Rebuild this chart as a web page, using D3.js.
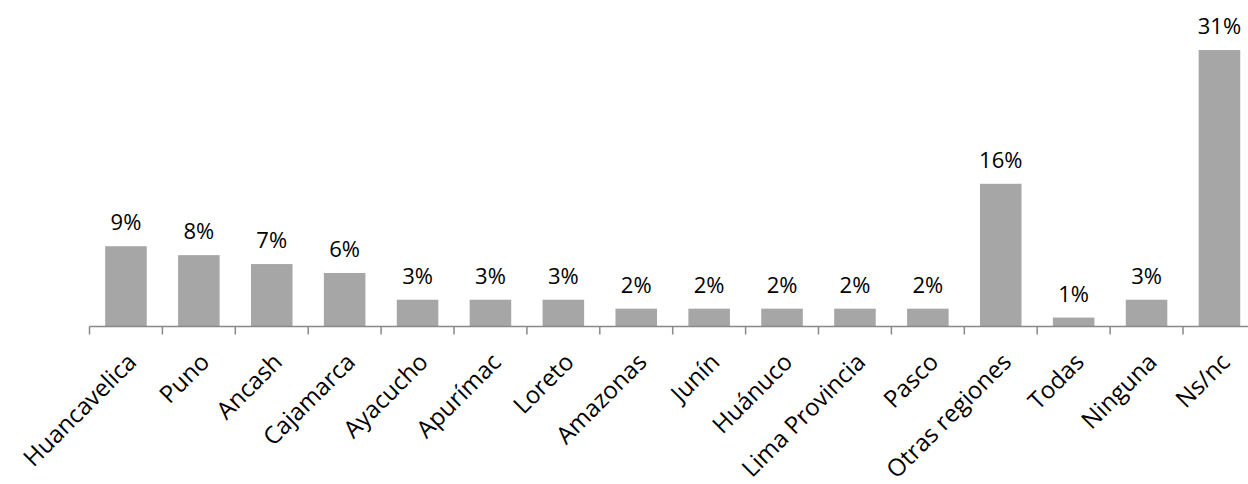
<!DOCTYPE html>
<html>
<head>
<meta charset="utf-8">
<script src="https://cdn.jsdelivr.net/npm/d3@7"></script>
<style>
  body { margin: 0; background: #fff; }
  text { font-family: "Open Sans", sans-serif; fill: #000; }
</style>
</head>
<body>
<svg class="chart"></svg>
<script>
const width = 1248,
  height = 484;

// regions and share of answers (%)
const regions = ["Huancavelica", "Puno", "Ancash", "Cajamarca", "Ayacucho", "Apurímac", "Loreto",
  "Amazonas", "Junín", "Huánuco", "Lima Provincia", "Pasco", "Otras regiones", "Todas", "Ninguna", "Ns/nc"];
const shares = [9, 8, 7, 6, 3, 3, 3, 2, 2, 2, 2, 2, 16, 1, 3, 31];

const axisY = 326.5;

let chart = d3.select(".chart")
  .attr("width", width)
  .attr("height", height);

let x = d3.scaleBand()
  .domain(regions)
  .range([89.5, 1255.9])
  .paddingInner(0.43)
  .paddingOuter(0.215);

let y = d3.scaleLinear()
  .domain([0, 31])
  .range([axisY, 50]);

let data = regions.map((r, i) => ({ region: r, value: shares[i] }));

// bars
chart.append("g").selectAll("rect")
  .data(data)
  .enter().append("rect")
  .attr("x", d => x(d.region))
  .attr("y", d => y(d.value))
  .attr("width", x.bandwidth())
  .attr("height", d => axisY - y(d.value))
  .attr("fill", "#a6a6a6");

// value labels
chart.append("g").selectAll("text")
  .data(data)
  .enter().append("text")
  .attr("x", d => x(d.region) + x.bandwidth() / 2)
  .attr("y", d => y(d.value) - 16)
  .attr("text-anchor", "middle")
  .style("font-size", "22px")
  .text(d => d.value + "%");

// axis line + ticks between bars
let step = x.step();
let axis = chart.append("g");
axis.append("line")
  .attr("x1", x.range()[0])
  .attr("x2", x.range()[1])
  .attr("y1", axisY)
  .attr("y2", axisY)
  .attr("stroke", "#898989")
  .attr("stroke-width", 1.5);
axis.selectAll(".tick")
  .data(d3.range(regions.length + 1))
  .enter().append("line")
  .attr("class", "tick")
  .attr("x1", i => x.range()[0] + i * step)
  .attr("x2", i => x.range()[0] + i * step)
  .attr("y1", axisY)
  .attr("y2", axisY + 8)
  .attr("stroke", "#898989")
  .attr("stroke-width", 1.5);

// category labels, rotated
chart.append("g").selectAll("text")
  .data(regions)
  .enter().append("text")
  .attr("transform", d => `translate(${x(d) + x.bandwidth() / 2 + 12}, ${axisY + 37}) rotate(-45)`)
  .attr("text-anchor", "end")
  .style("font-size", "24px")
  .text(d => d);
</script>
</body>
</html>
